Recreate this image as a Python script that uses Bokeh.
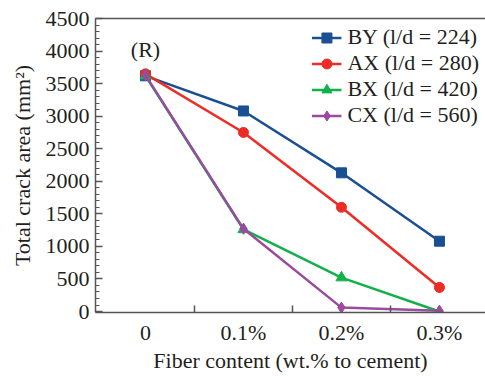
from bokeh.plotting import figure
from bokeh.models import FixedTicker, LinearAxis, Range1d, Label, Legend, LegendItem
from bokeh.embed import file_html
from bokeh.resources import INLINE

categories = ["0", "0.1%", "0.2%", "0.3%"]
x_pos = [0, 1, 2, 3]
by_vals = [3620, 3080, 2130, 1080]
ax_vals = [3650, 2750, 1600, 370]
bx_vals = [3620, 1260, 520, 0]
cx_vals = [3630, 1270, 60, 10]
series_names = ["BY (l/d = 224)", "AX (l/d = 280)", "BX (l/d = 420)", "CX (l/d = 560)"]
y_ticks = [0, 500, 1000, 1500, 2000, 2500, 3000, 3500, 4000, 4500]

FONT = "Liberation Serif"
FS = "22px"
TXT = "#231f20"
AXC = "#555555"

p = figure(width=485, height=376, output_backend="svg", toolbar_location=None,
           x_range=Range1d(-0.51, 3.47), y_range=Range1d(-15, 4500),
           min_border_left=95, min_border_right=0, min_border_top=18, min_border_bottom=64)
p.outline_line_color = None
p.xgrid.visible = False
p.ygrid.visible = False
p.background_fill_color = "white"
p.border_fill_color = "white"

# x axis
xa = p.xaxis[0]
xa.ticker = FixedTicker(ticks=x_pos, minor_ticks=[0.5, 1.5, 2.5])
xa.major_label_overrides = {i: c for i, c in zip(x_pos, categories)}
xa.major_tick_in = 0
xa.major_tick_out = 0
xa.minor_tick_in = 7
xa.minor_tick_out = 0
xa.minor_tick_line_width = 1.5
xa.minor_tick_line_color = AXC
xa.axis_line_color = AXC
xa.axis_line_width = 1.5
xa.major_label_text_font = FONT
xa.major_label_text_font_size = FS
xa.major_label_text_color = TXT
xa.major_label_standoff = 7
xa.axis_label = "Fiber content (wt.% to cement)"
xa.axis_label_text_font = FONT
xa.axis_label_text_font_size = FS
xa.axis_label_text_font_style = "normal"
xa.axis_label_text_color = TXT
xa.axis_label_standoff = 0

# y axis
ya = p.yaxis[0]
ya.ticker = FixedTicker(ticks=y_ticks, minor_ticks=list(range(0, 4501, 100)))
ya.major_tick_in = 7
ya.major_tick_out = 0
ya.minor_tick_in = 4
ya.minor_tick_out = 0
ya.major_tick_line_color = AXC
ya.minor_tick_line_color = AXC
ya.major_tick_line_width = 1.5
ya.axis_line_color = AXC
ya.axis_line_width = 1.5
ya.major_label_text_font = FONT
ya.major_label_text_font_size = FS
ya.major_label_text_color = TXT
ya.major_label_standoff = 6
ya.axis_label = "Total crack area (mm\u00b2)"
ya.axis_label_text_font = FONT
ya.axis_label_text_font_size = FS
ya.axis_label_text_font_style = "normal"
ya.axis_label_text_color = TXT
ya.axis_label_standoff = 8

# top border line
top = LinearAxis(ticker=FixedTicker(ticks=[]), axis_line_color=AXC, axis_line_width=1.5,
                 major_label_text_font_size="0px", major_tick_out=0, minor_tick_out=0)
p.add_layout(top, "above")

colors = ["#1b4f93", "#ee2b24", "#12b04b", "#9a4a9f"]
data = [by_vals, ax_vals, bx_vals, cx_vals]
markers = ["square", "circle", "triangle", "diamond"]
sizes = [10, 10, 11, 11]
items = []
for name, vals, c, m, s in zip(series_names, data, colors, markers, sizes):
    r1 = p.line(x_pos, vals, line_color=c, line_width=2.5)
    r2 = p.scatter(x_pos, vals, marker=m, size=s, fill_color=c, line_color=c)
    items.append(LegendItem(label=name, renderers=[r1, r2]))

legend = Legend(items=items, location="top_right")
legend.border_line_color = None
legend.background_fill_alpha = 0
legend.label_text_font = FONT
legend.label_text_font_size = FS
legend.label_text_color = TXT
legend.glyph_width = 30
legend.glyph_height = 25
legend.label_height = 25
legend.spacing = 0
legend.label_standoff = 6
legend.margin = 6
legend.padding = 2
p.add_layout(legend)

p.add_layout(Label(x=0, y=4030, text="(R)", text_font=FONT, text_font_size=FS,
                   text_color=TXT, text_align="center", text_baseline="middle"))

open("out.html", "w").write(file_html(p, INLINE))
